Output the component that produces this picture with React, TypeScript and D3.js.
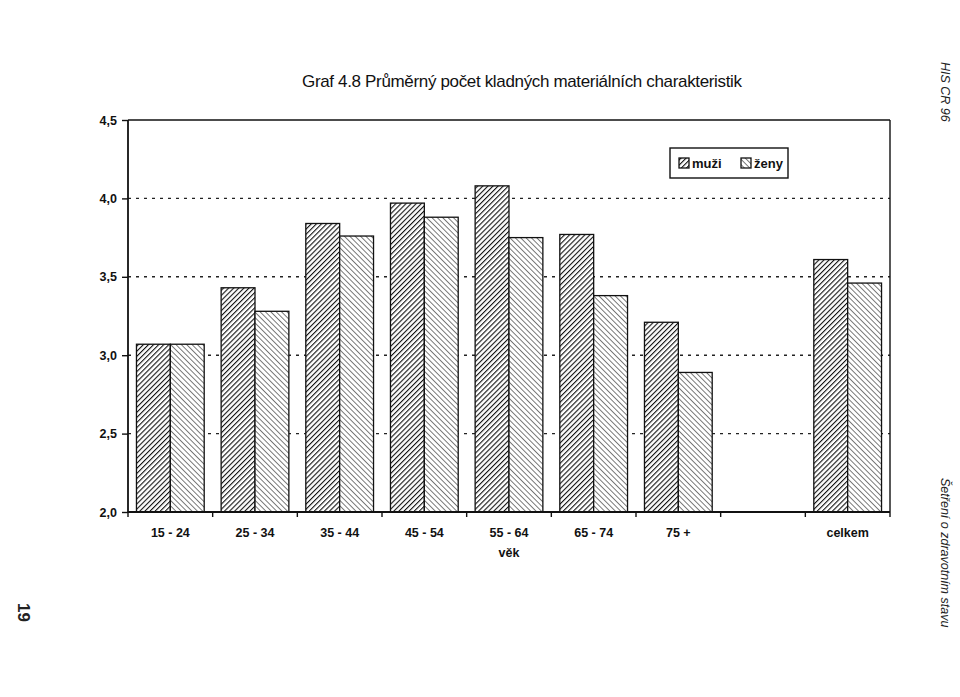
import * as d3 from "d3";
import React, { useEffect, useRef } from "react";

// age groups, the blank one is the empty slot before "celkem"
const categories = ["15 - 24", "25 - 34", "35 - 44", "45 - 54", "55 - 64", "65 - 74", "75 +", " ", "celkem"];
const muzi = [3.07, 3.43, 3.84, 3.97, 4.08, 3.77, 3.21, null, 3.61];
const zeny = [3.07, 3.28, 3.76, 3.88, 3.75, 3.38, 2.89, null, 3.46];
const yTicks = [2.0, 2.5, 3.0, 3.5, 4.0, 4.5];
const seriesNames = ["muži", "ženy"];

const font = "'Liberation Sans', Arial, sans-serif";

function drawChart(node: SVGSVGElement) {
  const svg = d3.select(node);
  svg.selectAll("*").remove();

  const margin = { top: 120, left: 128 },
    width = 762,
    height = 392;

  const defs = svg.append("defs");
  // hatch for men: "/" dense dark
  defs
    .append("pattern")
    .attr("id", "hatchM")
    .attr("patternUnits", "userSpaceOnUse")
    .attr("width", 3.6)
    .attr("height", 3.6)
    .attr("patternTransform", "rotate(45)")
    .call(p => {
      p.append("rect").attr("width", 3.6).attr("height", 3.6).attr("fill", "#fff");
      p.append("line").attr("x1", 0).attr("y1", 0).attr("x2", 0).attr("y2", 3.6).attr("stroke", "#111").attr("stroke-width", 2.2);
    });
  // hatch for women: "\" lighter
  defs
    .append("pattern")
    .attr("id", "hatchZ")
    .attr("patternUnits", "userSpaceOnUse")
    .attr("width", 3.8)
    .attr("height", 3.8)
    .attr("patternTransform", "rotate(-45)")
    .call(p => {
      p.append("rect").attr("width", 3.8).attr("height", 3.8).attr("fill", "#fff");
      p.append("line").attr("x1", 0).attr("y1", 0).attr("x2", 0).attr("y2", 3.8).attr("stroke", "#222").attr("stroke-width", 1.2);
    });

  // title
  svg
    .append("text")
    .attr("x", 302)
    .attr("y", 87)
    .attr("font-family", font)
    .attr("font-size", 17)
    .attr("fill", "#111")
    .attr("textLength", 440)
    .text("Graf 4.8  Průměrný počet kladných materiálních charakteristik");

  const g = svg.append("g").attr("transform", `translate(${margin.left},${margin.top})`);

  const x = d3.scaleBand().domain(categories).range([0, width]).paddingInner(0).paddingOuter(0);
  const y = d3.scaleLinear().domain([2, 4.5]).range([height, 0]);

  // dotted gridlines
  g.append("g")
    .selectAll("line")
    .data(yTicks.slice(1, -1))
    .join("line")
    .attr("x1", 0)
    .attr("x2", width)
    .attr("y1", d => y(d))
    .attr("y2", d => y(d))
    .attr("stroke", "#222")
    .attr("stroke-width", 1.4)
    .attr("stroke-dasharray", "3,5");

  // frame top and right
  g.append("line").attr("x1", 0).attr("x2", width).attr("y1", 0).attr("y2", 0).attr("stroke", "#111").attr("stroke-width", 1.4);
  g.append("line").attr("x1", width).attr("x2", width).attr("y1", 0).attr("y2", height).attr("stroke", "#111").attr("stroke-width", 1.4);

  // bars
  const inner = d3.scaleBand().domain(seriesNames).range([0, x.bandwidth()]).paddingOuter(0.25).paddingInner(0);
  const rows = categories.map((c, i) => ({ c, vals: [muzi[i], zeny[i]] }));
  const groups = g
    .append("g")
    .selectAll("g")
    .data(rows)
    .join("g")
    .attr("transform", d => `translate(${x(d.c)},0)`);
  groups
    .selectAll("rect")
    .data(d => d.vals.map((v, i) => ({ v, s: seriesNames[i] })).filter(e => e.v != null))
    .join("rect")
    .attr("x", d => inner(d.s)!)
    .attr("width", inner.bandwidth())
    .attr("y", d => y(d.v as number))
    .attr("height", d => height - y(d.v as number))
    .attr("fill", d => (d.s === "muži" ? "url(#hatchM)" : "url(#hatchZ)"))
    .attr("stroke", "#111")
    .attr("stroke-width", 1.3);

  // axes
  const yAxis = g
    .append("g")
    .call(d3.axisLeft(y).tickValues(yTicks).tickSize(6).tickFormat(d => d3.format(".1f")(d as number).replace(".", ",")));
  const xAxis = g
    .append("g")
    .attr("transform", `translate(0,${height})`)
    .call(d3.axisBottom(x).tickSize(0).tickPadding(16));
  [yAxis, xAxis].forEach(a => {
    a.select(".domain").attr("stroke", "#111").attr("stroke-width", 1.8);
    a.selectAll("text").attr("font-family", font).attr("font-weight", "bold").attr("font-size", 12.5).attr("fill", "#111");
    a.selectAll("line").attr("stroke", "#111").attr("stroke-width", 1.4);
  });
  yAxis.select(".domain").attr("d", `M0,0V${height}`);
  xAxis.select(".domain").attr("d", `M0,0H${width}`);
  yAxis.selectAll("text").attr("dx", -2);
  // ticks between categories
  xAxis
    .append("g")
    .selectAll("line")
    .data(d3.range(categories.length + 1))
    .join("line")
    .attr("x1", i => i * x.step())
    .attr("x2", i => i * x.step())
    .attr("y1", 0)
    .attr("y2", 5)
    .attr("stroke", "#111")
    .attr("stroke-width", 1.4);

  // axis title
  g.append("text")
    .attr("x", x("55 - 64")! + x.bandwidth() / 2)
    .attr("y", height + 45)
    .attr("text-anchor", "middle")
    .attr("font-family", font)
    .attr("font-weight", "bold")
    .attr("font-size", 12.5)
    .attr("fill", "#111")
    .text("věk");

  // legend
  const lg = svg.append("g").attr("transform", "translate(670,148)");
  lg.append("rect").attr("width", 118).attr("height", 30).attr("fill", "#fff").attr("stroke", "#111").attr("stroke-width", 1.4);
  seriesNames.forEach((s, i) => {
    const lx = 9 + i * 62;
    lg.append("rect")
      .attr("x", lx)
      .attr("y", 10)
      .attr("width", 10)
      .attr("height", 10)
      .attr("fill", i === 0 ? "url(#hatchM)" : "url(#hatchZ)")
      .attr("stroke", "#111")
      .attr("stroke-width", 1.3);
    lg.append("text")
      .attr("x", lx + 13)
      .attr("y", 20)
      .attr("font-family", font)
      .attr("font-weight", "bold")
      .attr("font-size", 13)
      .attr("fill", "#111")
      .text(s);
  });

  // page marks
  const side = (tx: number, ty: number, txt: string, size: number, italic: boolean, bold = false) =>
    svg
      .append("text")
      .attr("transform", `translate(${tx},${ty}) rotate(90)`)
      .attr("font-family", font)
      .attr("font-style", italic ? "italic" : "normal")
      .attr("font-weight", bold ? "bold" : "normal")
      .attr("font-size", size)
      .attr("fill", "#222")
      .text(txt);
  side(941, 62, "HIS CR 96", 12.5, true);
  side(941, 478, "Šetření o zdravotním stavu", 12.5, true);
  side(18, 603, "19", 17, false, true);
}

export default function App() {
  const ref = useRef<SVGSVGElement>(null);
  useEffect(() => {
    if (ref.current) drawChart(ref.current);
  }, []);
  return (
    <svg
      ref={ref}
      width={960}
      height={697}
      style={{ position: "absolute", left: 0, top: 0, background: "#fff" }}
    />
  );
}
